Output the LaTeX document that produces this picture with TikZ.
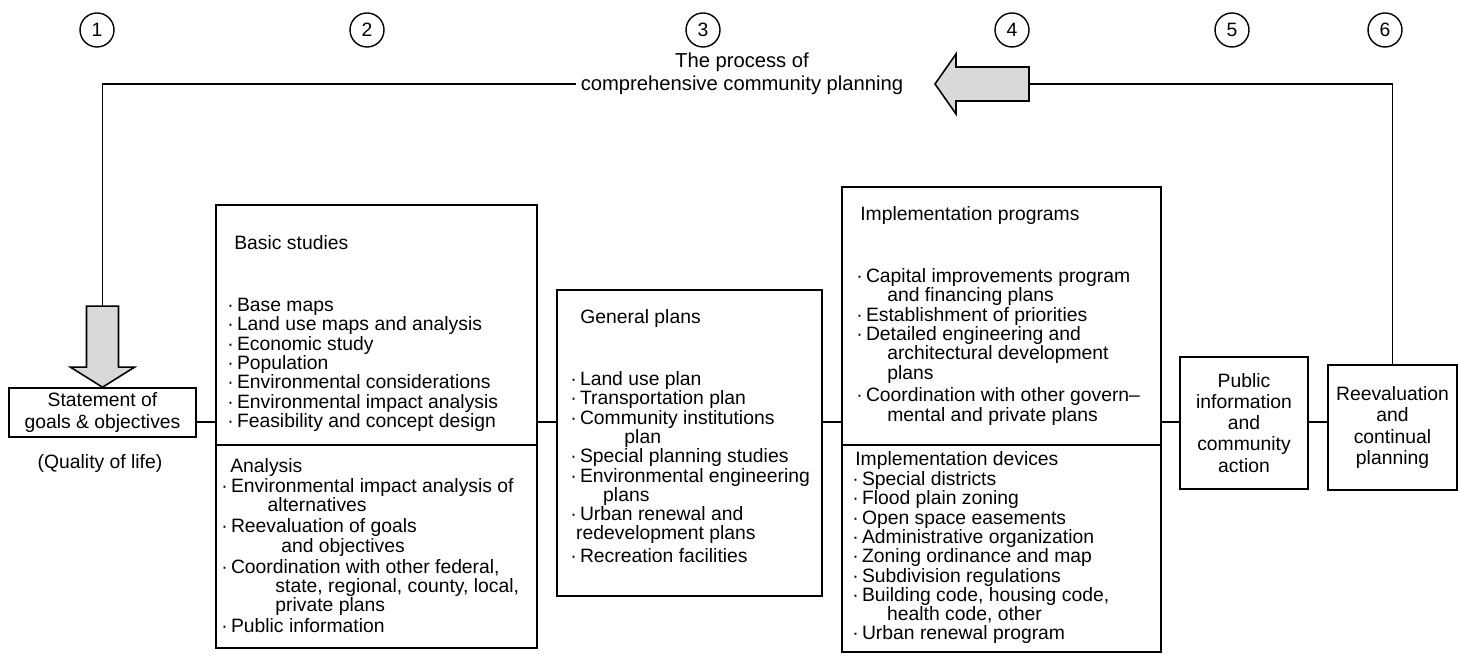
\documentclass[tikz,border=0pt]{standalone}
\usepackage{fontspec}
\setmainfont{Liberation Sans}
\begin{document}
\begin{tikzpicture}[>=stealth,font=\fontsize{11}{11}\selectfont,panel/.style={draw,line width=0.9pt,inner sep=0pt},boxtext/.style={panel,align=center,font=\fontsize{11}{12}\selectfont},listtext/.style={anchor=north west,align=left,inner sep=0pt},numcirc/.style={draw,circle,line width=0.8pt,minimum size=0.68cm,inner sep=0pt},fatarrow/.style={draw,line width=0.9pt,fill=black!15},link/.style={line width=1.1pt}]
  \useasboundingbox (0,0) rectangle (29.16,13.26);
  \node[numcirc] (n1) at (1.94,12.66) {1};
  \node[numcirc] (n2) at (7.34,12.66) {2};
  \node[numcirc] (n3) at (14.06,12.66) {3};
  \node[numcirc] (n4) at (20.24,12.66) {4};
  \node[numcirc] (n5) at (24.64,12.66) {5};
  \node[numcirc] (n6) at (27.70,12.66) {6};
  \node[align=center,font=\fontsize{11.5}{13}\selectfont] (process) at (14.84,11.79) {The process of\\comprehensive community planning};
  \node[boxtext,minimum width=3.74cm,minimum height=0.98cm] (stmt) at (2.05,5.01) {Statement of\\goals \& objectives};
  \node (quality) at (2.0,3.98) {(Quality of life)};
  \node[panel,minimum width=6.42cm,minimum height=4.8cm] (basic) at (7.53,6.76) {};
  \node[panel,minimum width=6.42cm,minimum height=4.06cm] (analysis) at (7.53,2.33) {};
  \node[panel,minimum width=5.3cm,minimum height=6.12cm] (general) at (13.79,4.40) {};
  \node[panel,minimum width=6.38cm,minimum height=5.16cm] (programs) at (20.03,6.94) {};
  \node[panel,minimum width=6.38cm,minimum height=4.14cm] (devices) at (20.03,2.29) {};
  \node[boxtext,minimum width=2.56cm,minimum height=2.64cm] (public) at (24.88,4.80) {Public\\information\\and\\community\\action};
  \node[boxtext,minimum width=2.58cm,minimum height=2.5cm] (reeval) at (27.85,4.71) {Reevaluation\\and\\continual\\planning};
  \node[listtext] (basichead) at (4.68,8.56) {Basic studies};
  \node[listtext] (basiclist) at (4.54,7.30) {·\,Base maps\\·\,Land use maps and analysis\\·\,Economic study\\·\,Population\\·\,Environmental considerations\\·\,Environmental impact analysis\\·\,Feasibility and concept design};
  \node[listtext] (analysishead) at (4.60,4.10) {Analysis};
  \node[listtext] (analysislist) at (4.42,3.70) {·\,Environmental impact analysis of\\\hspace*{2.4em}alternatives\\[1pt]·\,Reevaluation of goals\\\hspace*{3.1em}and objectives\\[1pt]·\,Coordination with other federal,\\\hspace*{2.8em}state, regional, county, local,\\\hspace*{2.8em}private plans\\[1pt]·\,Public information};
  \node[listtext] (generalhead) at (11.60,7.08) {General plans};
  \node[listtext] (generallist) at (11.40,5.84) {·\,Land use plan\\·\,Transportation plan\\·\,Community institutions\\\hspace*{2.8em}plan\\·\,Special planning studies\\·\,Environmental engineering\\\hspace*{1.7em}plans\\·\,Urban renewal and\\\hspace*{0.3em}redevelopment plans\\[2pt]·\,Recreation facilities};
  \node[listtext] (programshead) at (17.20,9.14) {Implementation programs};
  \node[listtext] (programslist) at (17.12,7.90) {·\,Capital improvements program\\\hspace*{1.6em}and financing plans\\·\,Establishment of priorities\\·\,Detailed engineering and\\\hspace*{1.6em}architectural development\\\hspace*{1.6em}plans\\[2pt]·\,Coordination with other govern–\\\hspace*{1.6em}mental and private plans};
  \node[listtext] (deviceshead) at (17.10,4.24) {Implementation devices};
  \node[listtext] (deviceslist) at (17.04,3.84) {·\,Special districts\\·\,Flood plain zoning\\·\,Open space easements\\·\,Administrative organization\\·\,Zoning ordinance and map\\·\,Subdivision regulations\\·\,Building code, housing code,\\\hspace*{1.8em}health code, other\\·\,Urban renewal program};
  \coordinate (bus) at (0,4.82);
  \coordinate (loopend) at (11.52,11.58);
  \coordinate (tip) at (18.70,11.58);
  \coordinate (tail) at (20.58,11.58);
  \draw[link] (stmt.east |- bus) -- (basic.west |- bus);
  \draw[link] (basic.east |- bus) -- (general.west |- bus);
  \draw[link] (general.east |- bus) -- (programs.west |- bus);
  \draw[link] (programs.east |- bus) -- (public.west |- bus);
  \draw[link] (public.east |- bus) -- (reeval.west |- bus);
  \draw[link] ([yshift=1.62cm]stmt.north) |- (loopend);
  \draw[fatarrow] (stmt.north) -- ++(0.64,0.4) -- ++(-0.32,0) -- ++(0,1.22) -- ++(-0.64,0) -- ++(0,-1.22) -- ++(-0.32,0) -- cycle;
  \draw[link] (reeval.north) |- (tail);
  \draw[fatarrow] (tip) -- ++(0.42,0.6) -- ++(0,-0.26) -- ++(1.46,0) -- ++(0,-0.68) -- ++(-1.46,0) -- ++(0,-0.26) -- cycle;
\end{tikzpicture}
\end{document}
